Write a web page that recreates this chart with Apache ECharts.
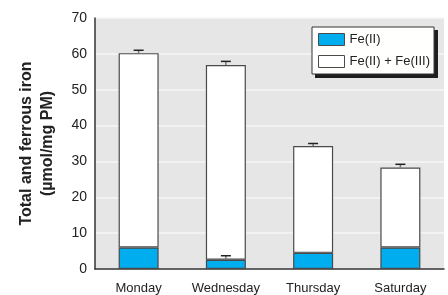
<!DOCTYPE html>
<html>
<head>
<meta charset="utf-8">
<script src="https://cdn.jsdelivr.net/npm/echarts@6/dist/echarts.min.js"></script>
<style>
  html, body { margin: 0; padding: 0; background: #fff; }
  #chart { width: 448px; height: 295px; }
</style>
</head>
<body>
<div id="chart"></div>
<script>
const days = ['Monday', 'Wednesday', 'Thursday', 'Saturday'];
const feII = [6.0, 2.6, 4.5, 6.0];
const feIIErr = [0, 1.1, 0, 0];
const totalIron = [60.2, 56.9, 34.3, 28.3];
const totalErr = [0.8, 1.0, 0.7, 0.9];

const FONT = '"Liberation Sans", Arial, sans-serif';
const BORDER = '#4a4a4a';
const LEGEND_BG = '#fffffe';

const chart = echarts.init(document.getElementById('chart'), null, { renderer: 'canvas' });

// top part of the stack = total minus ferrous
const restIron = totalIron.map((t, i) => +(t - feII[i]).toFixed(2));

function errorItem(params, api) {
  const x = api.value(0);
  const base = api.coord([x, api.value(1)]);
  const top = api.coord([x, api.value(1) + api.value(2)]);
  if (api.value(2) <= 0) return null;
  return {
    type: 'group',
    children: [
      { type: 'line', shape: { x1: base[0], y1: base[1], x2: top[0], y2: top[1] },
        style: { stroke: '#777', lineWidth: 1.5 } },
      { type: 'line', shape: { x1: top[0] - 5, y1: top[1], x2: top[0] + 5, y2: top[1] },
        style: { stroke: '#222', lineWidth: 1.5 } },
    ],
  };
}

chart.setOption({
  animation: false,
  textStyle: { fontFamily: FONT },
  grid: { left: 95, right: 4, top: 18, bottom: 26, show: true, backgroundColor: '#e6e6e7', borderWidth: 0 },
  legend: {
    z: 20,
    left: 312, top: 27,
    orient: 'vertical',
    icon: 'rect',
    itemWidth: 26, itemHeight: 12, itemGap: 9,
    padding: [6, 4, 6, 6],
    backgroundColor: LEGEND_BG,
    borderColor: '#333', borderWidth: 1,
    textStyle: { fontFamily: FONT, fontSize: 13, color: '#222' },
    data: [
      { name: 'Fe(II)', itemStyle: { color: '#00aeef', borderColor: BORDER, borderWidth: 1 } },
      { name: 'Fe(II) + Fe(III)', itemStyle: { color: '#fff', borderColor: BORDER, borderWidth: 1 } },
    ],
  },
  xAxis: {
    type: 'category',
    data: days,
    axisLine: { lineStyle: { color: '#333', width: 1.5 } },
    axisTick: { show: false },
    axisLabel: { interval: 0, fontFamily: FONT, fontSize: 13, color: '#222', margin: 13 },
  },
  yAxis: {
    type: 'value',
    min: 0, max: 70, interval: 10,
    name: 'Total and ferrous iron\n(µmol/mg PM)',
    nameLocation: 'middle',
    nameGap: 37,
    nameTextStyle: { fontFamily: FONT, fontSize: 16, fontWeight: 'bold', color: '#222', lineHeight: 21 },
    axisLine: { show: true, lineStyle: { color: '#333', width: 1.5 } },
    axisTick: { show: false },
    axisLabel: { fontFamily: FONT, fontSize: 14, color: '#222', margin: 8 },
    splitLine: { lineStyle: { color: '#f6f6f6', width: 1.5 } },
  },
  series: [
    {
      name: 'Fe(II)',
      type: 'bar',
      stack: 'iron',
      barWidth: 40,
      data: feII,
      itemStyle: { color: '#00aeef', borderColor: BORDER, borderWidth: 1.2 },
    },
    {
      name: 'Fe(II) + Fe(III)',
      type: 'bar',
      stack: 'iron',
      barWidth: 40,
      data: restIron,
      itemStyle: { color: '#fff', borderColor: BORDER, borderWidth: 1.2 },
    },
    {
      type: 'custom',
      renderItem: errorItem,
      data: totalIron.map((v, i) => [i, v, totalErr[i]]),
      z: 5,
    },
    {
      type: 'custom',
      renderItem: errorItem,
      data: feII.map((v, i) => [i, v, feIIErr[i]]),
      z: 5,
    },
  ],
});

// hard drop shadow under the legend box: find its background rect and put a dark one 3px below-right
const legendBg = chart.getZr().storage.getDisplayList(true)
  .find(el => el.style && el.style.fill === LEGEND_BG && el.shape && el.shape.width > 50);
if (legendBg) {
  const r = legendBg.getBoundingRect().clone();
  if (legendBg.transform) r.applyTransform(legendBg.transform);
  chart.setOption({
    graphic: [{
      type: 'rect', z: 10,
      shape: { x: Math.round(r.x) + 3, y: Math.round(r.y) + 3, width: Math.round(r.width), height: Math.round(r.height) },
      style: { fill: '#1e1e1e' },
    }],
  });
}
</script>
</body>
</html>
